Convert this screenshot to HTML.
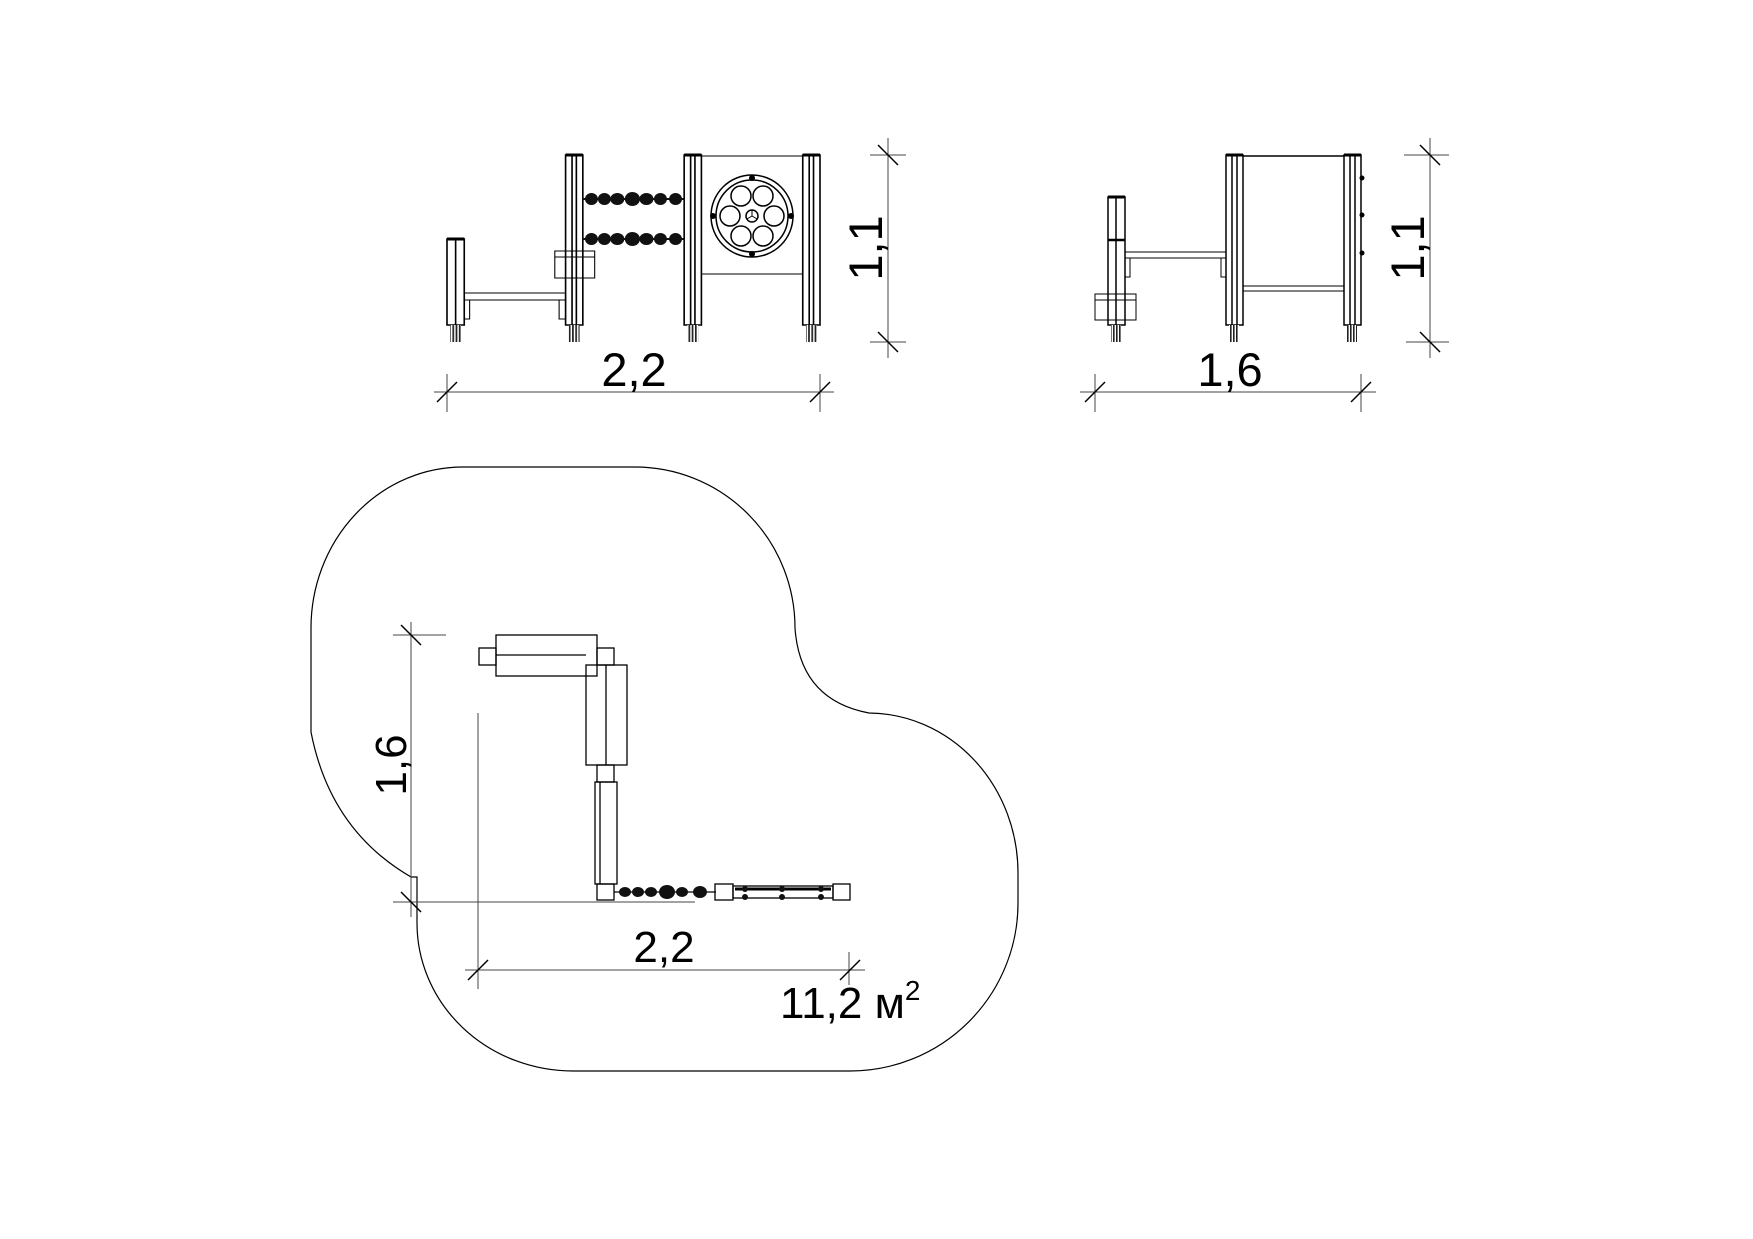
<!DOCTYPE html>
<html><head><meta charset="utf-8"><style>
html,body{margin:0;padding:0;background:#fff}
svg{display:block}
text{font-family:"Liberation Sans",sans-serif;fill:#000}
</style></head><body>
<svg width="1753" height="1239" viewBox="0 0 1753 1239" xmlns="http://www.w3.org/2000/svg">
<defs>
<pattern id="h" width="3" height="4" patternUnits="userSpaceOnUse"><rect width="3" height="4" fill="#fff"/><rect width="1.6" height="4" fill="#222"/></pattern>
</defs>
<g fill="none" stroke="#000" stroke-width="1.5">
<!-- FRONT VIEW (stretched) -->
<g transform="translate(447,0) scale(1.078,1) translate(-442,0)">
<rect x="442" y="239" width="16" height="86"/><line x1="450" y1="239" x2="450" y2="325"/><line x1="442" y1="239" x2="458" y2="239" stroke-width="3"/>
<rect x="445" y="325" width="10" height="17" fill="url(#h)" stroke="none"/>
<rect x="552" y="155" width="16" height="170"/><line x1="558" y1="155" x2="558" y2="325"/><line x1="562" y1="155" x2="562" y2="325"/><line x1="552" y1="155" x2="568" y2="155" stroke-width="3"/>
<rect x="555" y="325" width="10" height="17" fill="url(#h)" stroke="none"/>
<rect x="662" y="155" width="16" height="170"/><line x1="668" y1="155" x2="668" y2="325"/><line x1="672" y1="155" x2="672" y2="325"/><line x1="662" y1="155" x2="678" y2="155" stroke-width="3"/>
<rect x="665" y="325" width="10" height="17" fill="url(#h)" stroke="none"/>
<rect x="772" y="155" width="16" height="170"/><line x1="778" y1="155" x2="778" y2="325"/><line x1="782" y1="155" x2="782" y2="325"/><line x1="772" y1="155" x2="788" y2="155" stroke-width="3"/>
<rect x="775" y="325" width="10" height="17" fill="url(#h)" stroke="none"/>
<line x1="678" y1="156" x2="772" y2="156" stroke-width="1"/><line x1="678" y1="274" x2="772" y2="274" stroke-width="1"/>
<rect x="458" y="293" width="94" height="7" stroke-width="1"/>
<rect x="458" y="300" width="5" height="19" stroke-width="1"/><rect x="546" y="300" width="6" height="19" stroke-width="1"/>
<rect x="542" y="251" width="37" height="27" stroke-width="1"/><line x1="542" y1="257" x2="579" y2="257" stroke-width="1"/>
<g fill="#111" stroke="none">
<ellipse cx="576" cy="199" rx="6" ry="6"/><ellipse cx="588" cy="199" rx="6" ry="6"/><ellipse cx="600" cy="199" rx="6.5" ry="6"/><ellipse cx="614" cy="199" rx="7" ry="7"/><ellipse cx="627" cy="199" rx="6.5" ry="6"/><ellipse cx="640" cy="199" rx="6" ry="6"/><ellipse cx="654" cy="199" rx="6" ry="6"/>
<ellipse cx="576" cy="239" rx="6" ry="6"/><ellipse cx="588" cy="239" rx="6" ry="6"/><ellipse cx="600" cy="239" rx="6.5" ry="6"/><ellipse cx="614" cy="239" rx="7" ry="7"/><ellipse cx="627" cy="239" rx="6.5" ry="6"/><ellipse cx="640" cy="239" rx="6" ry="6"/><ellipse cx="654" cy="239" rx="6" ry="6"/>
<rect x="568" y="198" width="94" height="2"/><rect x="568" y="238" width="94" height="2"/>
</g>
</g>
<!-- circle -->
<g transform="translate(752,216)">
<circle r="41"/><circle r="36"/>
<circle cx="-11" cy="-20" r="10"/><circle cx="11" cy="-20" r="10"/><circle cx="-22" cy="0" r="10"/><circle cx="22" cy="0" r="10"/><circle cx="-11" cy="20" r="10"/><circle cx="11" cy="20" r="10"/>
<circle r="6"/><path d="M0 0 L0 -6 M0 0 L-5 3 M0 0 L5 3" stroke-width="1"/>
<g fill="#000" stroke="none"><circle cy="-38" r="3"/><circle cy="38" r="3"/><circle cx="-39" r="3"/><circle cx="39" r="3"/></g>
</g>
<!-- dims front -->
<g stroke="#444" stroke-width="1">
<line x1="434" y1="392" x2="834" y2="392"/><line x1="447" y1="374" x2="447" y2="412"/><line x1="820" y1="374" x2="820" y2="412"/>
<line x1="888" y1="138" x2="888" y2="358"/><line x1="870" y1="155" x2="906" y2="155"/><line x1="870" y1="342" x2="906" y2="342"/>
</g>
<g stroke-width="1.5"><line x1="437" y1="402" x2="457" y2="382"/><line x1="810" y1="402" x2="830" y2="382"/>
<line x1="878" y1="145" x2="898" y2="165"/><line x1="878" y1="332" x2="898" y2="352"/></g>

<!-- SIDE VIEW -->
<rect x="1108" y="197" width="17" height="128"/><line x1="1116" y1="197" x2="1116" y2="325"/><line x1="1108" y1="240" x2="1125" y2="240" stroke-width="2.5"/><line x1="1108" y1="197" x2="1125" y2="197" stroke-width="3"/>
<rect x="1111" y="325" width="10" height="17" fill="url(#h)" stroke="none"/>
<rect x="1095" y="294" width="41" height="26" stroke-width="1"/><line x1="1095" y1="300" x2="1136" y2="300" stroke-width="1"/>
<rect x="1125" y="252" width="101" height="6" stroke-width="1"/>
<rect x="1125" y="258" width="5" height="19" stroke-width="1"/><rect x="1221" y="258" width="5" height="19" stroke-width="1"/>
<rect x="1226" y="155" width="17" height="170"/><line x1="1232" y1="155" x2="1232" y2="325"/><line x1="1237" y1="155" x2="1237" y2="325"/><line x1="1226" y1="155" x2="1243" y2="155" stroke-width="3"/>
<rect x="1229" y="325" width="10" height="17" fill="url(#h)" stroke="none"/>
<rect x="1344" y="155" width="17" height="170"/><line x1="1350" y1="155" x2="1350" y2="325"/><line x1="1355" y1="155" x2="1355" y2="325"/><line x1="1344" y1="155" x2="1361" y2="155" stroke-width="3"/>
<rect x="1347" y="325" width="10" height="17" fill="url(#h)" stroke="none"/>
<line x1="1243" y1="156" x2="1344" y2="156"/>
<rect x="1243" y="286" width="101" height="5" stroke-width="1"/>
<g fill="#000" stroke="none"><circle cx="1362" cy="178" r="2.5"/><circle cx="1362" cy="215" r="2.5"/><circle cx="1362" cy="253" r="2.5"/></g>
<g stroke="#444" stroke-width="1">
<line x1="1080" y1="392" x2="1376" y2="392"/><line x1="1095" y1="374" x2="1095" y2="412"/><line x1="1361" y1="374" x2="1361" y2="412"/>
<line x1="1430" y1="138" x2="1430" y2="358"/><line x1="1404" y1="155" x2="1449" y2="155"/><line x1="1406" y1="342" x2="1449" y2="342"/>
</g>
<g stroke-width="1.5"><line x1="1085" y1="402" x2="1105" y2="382"/><line x1="1351" y1="402" x2="1371" y2="382"/>
<line x1="1420" y1="145" x2="1440" y2="165"/><line x1="1420" y1="332" x2="1440" y2="352"/></g>

<!-- PLAN OUTLINE -->
<path stroke-width="1.2" d="M463 467 L635 467 A160 161 0 0 1 795 628 Q800 700 869 713 A150 160 0 0 1 1018 873 L1018 903 A168 168 0 0 1 850 1071 L573 1071 A156 148 0 0 1 417 923 L417 877 L411 877 Q330 830 311 732 L311 628 A152 161 0 0 1 463 467 Z"/>
<g stroke-width="1.3">
<rect x="496" y="635" width="101" height="41"/><line x1="496" y1="655" x2="586" y2="655"/>
<rect x="479" y="648" width="17" height="17"/><rect x="597" y="648" width="17" height="17"/>
<rect x="586" y="665" width="41" height="100"/><line x1="606" y1="665" x2="606" y2="765"/>
<rect x="597" y="765" width="17" height="17"/>
<rect x="595" y="782" width="22" height="102"/><line x1="600" y1="782" x2="600" y2="884"/>
<rect x="597" y="884" width="17" height="16"/>
<line x1="614" y1="892" x2="716" y2="892"/>
<rect x="715" y="884" width="18" height="16"/>
<rect x="733" y="886" width="100" height="12"/><line x1="735" y1="889" x2="831" y2="889" stroke-width="3"/>
<rect x="833" y="884" width="17" height="16"/>
</g>
<g fill="#111" stroke="none">
<ellipse cx="625" cy="892" rx="6" ry="5"/><ellipse cx="638" cy="892" rx="6" ry="5"/><ellipse cx="651" cy="892" rx="6" ry="5"/><ellipse cx="667" cy="892" rx="8" ry="7"/><ellipse cx="682" cy="892" rx="6" ry="5"/><ellipse cx="700" cy="892" rx="7" ry="6"/>
<circle cx="745" cy="889" r="3"/><circle cx="782" cy="889" r="3"/><circle cx="821" cy="889" r="3"/><circle cx="745" cy="897" r="3"/><circle cx="782" cy="897" r="3"/><circle cx="821" cy="897" r="3"/>
</g>
<g stroke="#444" stroke-width="1">
<line x1="411" y1="622" x2="411" y2="917"/><line x1="393" y1="635" x2="446" y2="635"/><line x1="393" y1="902" x2="695" y2="902"/>
<line x1="478" y1="713" x2="478" y2="989"/>
<line x1="465" y1="970" x2="865" y2="970"/><line x1="849" y1="952" x2="849" y2="985"/>
</g>
<g stroke-width="1.5"><line x1="401" y1="625" x2="421" y2="645"/><line x1="401" y1="892" x2="421" y2="912"/>
<line x1="468" y1="980" x2="488" y2="960"/><line x1="840" y1="980" x2="860" y2="960"/></g>
</g>
<text x="634" y="386" font-size="47" text-anchor="middle">2,2</text>
<text x="1230" y="386" font-size="47" text-anchor="middle">1,6</text>
<text transform="translate(882,248) rotate(-90)" font-size="47" text-anchor="middle">1,1</text>
<text transform="translate(1424,248) rotate(-90)" font-size="47" text-anchor="middle">1,1</text>
<text transform="translate(406,765) rotate(-90)" font-size="44" text-anchor="middle">1,6</text>
<text x="664" y="962" font-size="44" text-anchor="middle">2,2</text>
<text x="780" y="1018" font-size="44">11,2 м<tspan font-size="28" dy="-18">2</tspan></text>
</svg>
</body></html>
